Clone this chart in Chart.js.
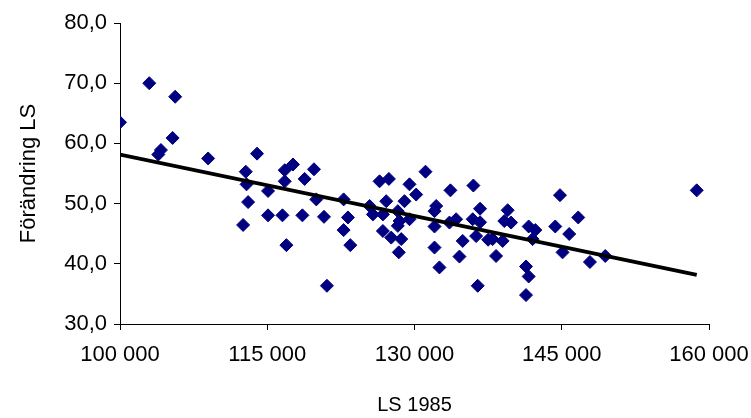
<!DOCTYPE html>
<html>
<head>
<meta charset="utf-8">
<title>Förändring LS mot LS 1985</title>
<script src="https://cdn.jsdelivr.net/npm/chart.js@4/dist/chart.umd.min.js"></script>
<style>
  html, body { margin: 0; padding: 0; background: #ffffff; }
  #wrap { width: 751px; height: 418px; }
</style>
</head>
<body>
<div id="wrap"><canvas id="c" width="751" height="418"></canvas></div>
<script>
// LS 1985 per kommun (x) and change in LS (y, %)
const ls1985 = [
  100000, 102980, 105620, 105360, 104170, 103900, 108980, 112810, 113960, 116780,
  117620, 119760, 116780, 118810, 112890, 115080, 120000, 122780, 113050, 115080,
  116550, 118580, 120780, 123220, 112540, 122780, 116950, 123460, 121080, 131120,
  126440, 127390, 129490, 130170, 133660, 136000, 127120, 128980, 125430, 125760,
  126780, 128300, 132210, 132040, 136680, 128480, 129490, 128300, 132040, 134240,
  133560, 135930, 136280, 126780, 127630, 128650, 132040, 134910, 128400, 134580,
  132540, 136440, 144820, 139490, 146680, 139150, 139840, 144340, 141630, 142310,
  145760, 137960, 138980, 142030, 145080, 147870, 149430, 138310, 141360, 141630,
  141360, 158750, 136680, 137500
];
const forandring = [
  63.5, 70.0, 67.75, 60.9, 58.9, 58.15, 57.5, 55.3, 58.3, 55.55,
  56.5, 55.7, 53.7, 54.1, 53.2, 52.1, 50.7, 50.7, 50.25, 48.05,
  48.05, 48.05, 47.8, 47.7, 46.45, 45.6, 43.1, 43.1, 36.35, 55.3,
  53.7, 54.1, 53.2, 51.5, 52.2, 53.0, 50.4, 50.4, 49.6, 48.2,
  48.2, 48.75, 49.6, 48.75, 49.15, 47.1, 47.4, 46.3, 46.2, 47.4,
  46.85, 47.4, 44.6, 45.45, 44.35, 44.1, 42.7, 43.8, 41.9, 41.2,
  39.4, 36.35, 51.4, 48.9, 47.7, 47.1, 46.85, 46.2, 46.2, 45.6,
  44.95, 44.1, 43.8, 44.1, 41.9, 40.3, 41.3, 41.3, 39.55, 37.9,
  34.8, 52.2, 46.9, 44.0
];

// Linear trend line end points
const trendX = [100000, 158750];
const trendY = [58.15, 38.15];

// Axis tick values
const xTicks = [100000, 115000, 130000, 145000, 160000];
const yTicks = [30, 40, 50, 60, 70, 80];

const points = ls1985.map((x, i) => ({ x: x, y: forandring[i] }));
const trend = trendX.map((x, i) => ({ x: x, y: trendY[i] }));

const FONT = '"Liberation Sans", Arial, sans-serif';

new Chart(document.getElementById('c'), {
  type: 'scatter',
  data: {
    datasets: [
      {
        label: 'Linjär trend',
        data: trend,
        showLine: true,
        borderColor: '#000000',
        borderWidth: 3.8,
        pointRadius: 0,
        fill: false,
        order: 0
      },
      {
        label: 'Förändring LS',
        data: points,
        pointStyle: 'rectRot',
        pointRadius: 6.5,
        pointBackgroundColor: '#000080',
        pointBorderColor: '#000080',
        pointBorderWidth: 1,
        order: 1
      }
    ]
  },
  options: {
    responsive: false,
    animation: false,
    devicePixelRatio: 1,
    layout: { padding: { top: 23, right: 42, left: 0, bottom: 0 } },
    plugins: {
      legend: { display: false },
      tooltip: { enabled: false }
    },
    scales: {
      x: {
        type: 'linear',
        min: 100000,
        max: 160000,
        afterBuildTicks: (s) => { s.ticks = xTicks.map(v => ({ value: v })); },
        afterFit: (s) => { s.height = 94; s.paddingLeft = 0; s.paddingRight = 0; },
        border: { display: true, color: '#000000', width: 1 },
        grid: { display: true, drawOnChartArea: false, drawTicks: true, tickLength: 6, color: '#000000' },
        ticks: {
          color: '#000000',
          padding: 12,
          maxRotation: 0,
          font: { family: FONT, size: 22 },
          callback: (v) => String(v).replace(/\B(?=(\d{3})+(?!\d))/g, ' ')
        },
        title: {
          display: true,
          text: 'LS 1985',
          color: '#000000',
          font: { family: FONT, size: 20 },
          padding: { top: 0, bottom: 1 }
        }
      },
      y: {
        type: 'linear',
        min: 30,
        max: 80,
        afterBuildTicks: (s) => { s.ticks = yTicks.map(v => ({ value: v })); },
        afterFit: (s) => { s.width = 120; s.paddingTop = 0; s.paddingBottom = 0; },
        border: { display: true, color: '#000000', width: 1 },
        grid: { display: true, drawOnChartArea: false, drawTicks: true, tickLength: 6, color: '#000000' },
        ticks: {
          color: '#000000',
          padding: 7,
          font: { family: FONT, size: 22 },
          callback: (v) => Number(v).toFixed(1).replace('.', ',')
        },
        title: {
          display: true,
          text: 'Förändring LS',
          color: '#000000',
          font: { family: FONT, size: 22 },
          padding: { top: 16, bottom: 0 }
        }
      }
    }
  }
});
</script>
</body>
</html>
